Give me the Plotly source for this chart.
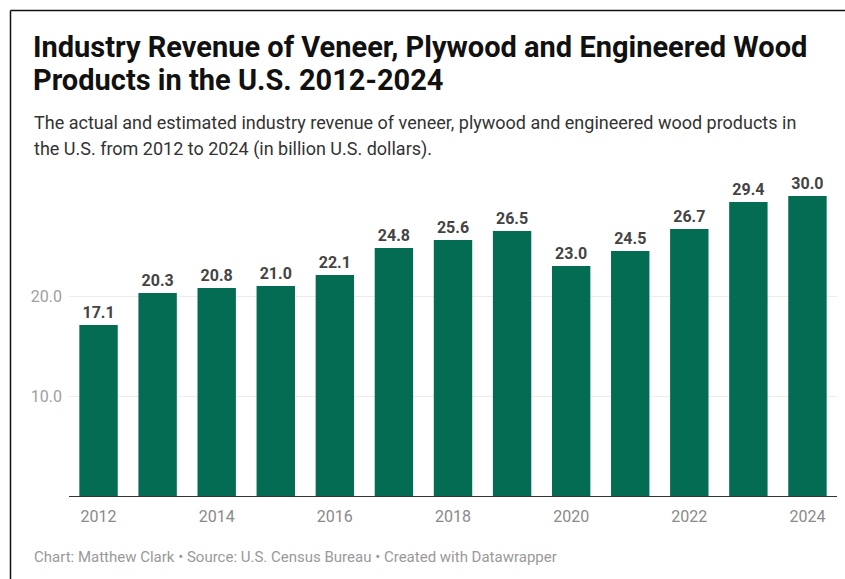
import plotly.graph_objects as go

years = [2012, 2013, 2014, 2015, 2016, 2017, 2018, 2019, 2020, 2021, 2022, 2023, 2024]
revenue = [17.1, 20.3, 20.8, 21.0, 22.1, 24.8, 25.6, 26.5, 23.0, 24.5, 26.7, 29.4, 30.0]
tick_years = [2012, 2014, 2016, 2018, 2020, 2022, 2024]
y_ticks = [10, 20]
y_tick_labels = ["10.0", "20.0"]

W, H = 845, 579
ML, MR, MT, MB = 69, 8, 180, 83

fig = go.Figure()
fig.add_trace(go.Bar(
    x=years, y=revenue,
    marker=dict(color="#036c53", line=dict(width=0)),
    text=[f"<b>{v:.1f}</b>" for v in revenue],
    textposition="outside",
    textfont=dict(family="Roboto", size=16, color="#444444"),
    cliponaxis=False,
    width=0.65,
    hoverinfo="skip",
))

fig.update_layout(
    width=W, height=H,
    margin=dict(l=ML, r=MR, t=MT, b=MB, pad=0),
    paper_bgcolor="white", plot_bgcolor="white",
    showlegend=False,
    font=dict(family="Roboto", color="#333333"),
    xaxis=dict(
        range=[2011.5, 2024.5],
        tickmode="array", tickvals=tick_years, ticktext=[str(t) for t in tick_years],
        tickfont=dict(family="Roboto", size=16, color="#8a8a8a"),
        showgrid=False, zeroline=False, showline=True, linecolor="#333333", linewidth=1,
        ticks="", ticklen=0, ticklabelstandoff=6,
    ),
    yaxis=dict(
        range=[0, 31.6],
        tickmode="array", tickvals=y_ticks, ticktext=y_tick_labels,
        tickfont=dict(family="Roboto", size=16, color="#a0a0a0"),
        showgrid=True, gridcolor="#ececec", gridwidth=1,
        zeroline=False, showline=False, ticks="", ticklabelstandoff=6,
    ),
)

def px_x(p):
    return (p - ML) / (W - ML - MR)

def px_y(p):
    return 1 - (p - MT) / (H - MT - MB)

annos = [
    dict(text="<b>Industry Revenue of Veneer, Plywood and Engineered Wood</b>", x=31, y=47, size=29, color="#111111"),
    dict(text="<b>Products in the U.S. 2012-2024</b>", x=31, y=80, size=29, color="#111111"),
    dict(text="The actual and estimated industry revenue of veneer, plywood and engineered wood products in", x=32, y=123, size=18, color="#333333"),
    dict(text="the U.S. from 2012 to 2024 (in billion U.S. dollars).", x=32, y=149, size=18, color="#333333"),
    dict(text="Chart: Matthew Clark • Source: U.S. Census Bureau • Created with Datawrapper", x=32, y=557, size=15, color="#999999"),
]
for a in annos:
    fig.add_annotation(
        text=a["text"], xref="paper", yref="paper",
        x=px_x(a["x"]), y=px_y(a["y"]),
        xanchor="left", yanchor="middle", showarrow=False,
        font=dict(family="Roboto", size=a["size"], color=a["color"]),
    )

# frame lines (left and top)
fig.add_shape(type="line", xref="paper", yref="paper",
              x0=px_x(10.5), x1=px_x(10.5), y0=px_y(10.5), y1=px_y(579),
              line=dict(color="#111111", width=1.5))
fig.add_shape(type="line", xref="paper", yref="paper",
              x0=px_x(10.5), x1=px_x(845), y0=px_y(10.5), y1=px_y(10.5),
              line=dict(color="#111111", width=1.5))

fig.write_html("out.html")
